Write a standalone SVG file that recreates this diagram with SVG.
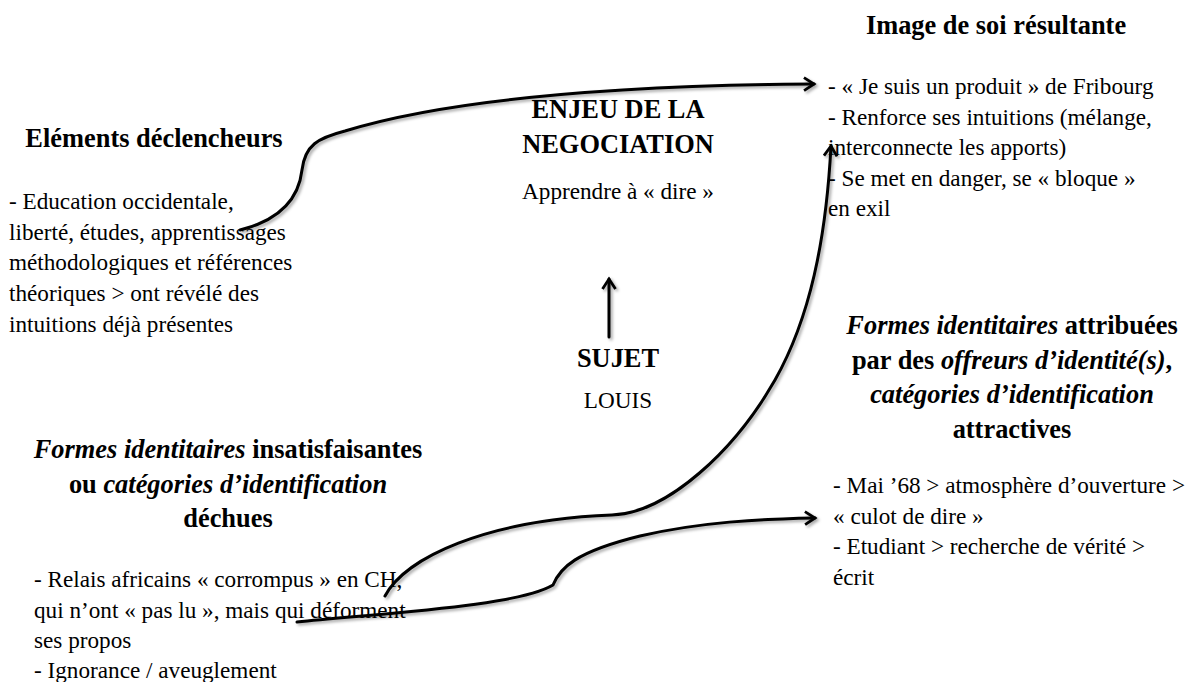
<svg xmlns="http://www.w3.org/2000/svg" width="1191" height="682" viewBox="0 0 1191 682" font-family="Liberation Serif, Tinos, Times New Roman, serif">
<style>
text{font-family:'Liberation Serif',Tinos,'Times New Roman',serif;fill:#000}
.t{font-size:26.4px;font-weight:bold;text-anchor:middle}
.b{font-size:23.2px}
.c{font-size:23.2px;text-anchor:middle}
.i{font-style:italic}
.ln{fill:none;stroke:#000;stroke-width:3;stroke-linecap:round}
</style>
<defs>
<marker id="ah" viewBox="0 0 16 16" refX="13" refY="8" markerWidth="16" markerHeight="16" markerUnits="userSpaceOnUse" orient="auto">
<path d="M3,1.5 L13,8 L3,14.5" fill="none" stroke="#000" stroke-width="2.8" stroke-linejoin="miter"/>
</marker>
<filter id="sh" x="-5%" y="-5%" width="110%" height="110%">
<feDropShadow dx="2" dy="2" stdDeviation="1.5" flood-color="#000" flood-opacity="0.35"/>
</filter>
</defs>
<rect width="1191" height="682" fill="#fff"/>

<g id="elements-declencheurs">
<text class="t" x="154" y="147">Eléments déclencheurs</text>
<text class="b" x="9" y="209">- Education occidentale,</text>
<text class="b" x="9" y="239.7">liberté, études, apprentissages</text>
<text class="b" x="9" y="270.4">méthodologiques et références</text>
<text class="b" x="9" y="301">théoriques &gt; ont révélé des</text>
<text class="b" x="9" y="331.7">intuitions déjà présentes</text>
</g>

<g id="image-de-soi">
<text class="t" x="996" y="34">Image de soi résultante</text>
<text class="b" x="828" y="94">- « Je suis un produit » de Fribourg</text>
<text class="b" x="828" y="124.5">- Renforce ses intuitions (mélange,</text>
<text class="b" x="828" y="155">interconnecte les apports)</text>
<text class="b" x="828" y="185.5">- Se met en danger, se « bloque »</text>
<text class="b" x="828" y="216">en exil</text>
</g>

<g id="enjeu">
<text class="t" x="618" y="118">ENJEU DE LA</text>
<text class="t" x="618" y="153">NEGOCIATION</text>
<text class="c" x="618" y="199">Apprendre à « dire »</text>
</g>

<g id="sujet">
<text class="t" x="618" y="367">SUJET</text>
<text class="c" x="618" y="408">LOUIS</text>
</g>

<g id="formes-dechues">
<text class="t" x="228" y="458"><tspan class="i">Formes identitaires</tspan> insatisfaisantes</text>
<text class="t" x="228" y="492.5">ou <tspan class="i">catégories d’identification</tspan></text>
<text class="t" x="228" y="527">déchues</text>
<text class="b" x="34" y="587">- Relais africains « corrompus » en CH,</text>
<text class="b" x="34" y="617.5">qui n’ont « pas lu », mais qui déforment</text>
<text class="b" x="34" y="648">ses propos</text>
<text class="b" x="34" y="678">- Ignorance / aveuglement</text>
</g>

<g id="formes-attractives">
<text class="t" x="1012" y="334"><tspan class="i">Formes identitaires</tspan> attribuées</text>
<text class="t" x="1012" y="368.5">par des <tspan class="i">offreurs d’identité(s)</tspan>,</text>
<text class="t" x="1012" y="403"><tspan class="i">catégories d’identification</tspan></text>
<text class="t" x="1012" y="437.5">attractives</text>
<text class="b" x="833" y="493">- Mai ’68 &gt; atmosphère d’ouverture &gt;</text>
<text class="b" x="833" y="523.5">« culot de dire »</text>
<text class="b" x="833" y="554">- Etudiant &gt; recherche de vérité &gt;</text>
<text class="b" x="833" y="584.5">écrit</text>
</g>

<g id="connectors" filter="url(#sh)">
<path class="ln" d="M240,230 C272,222 298,205 302,170 C305,145 318,138 345,131 C420,108 560,86 814,84" marker-end="url(#ah)"/>
<path class="ln" d="M385,596 C405,558 485,520 612,515 C668,513 735,450 775,380 C810,318 826,240 831,146" marker-end="url(#ah)"/>
<path class="ln" d="M297,622 C400,612 520,605 553,585 C560,568 575,552 640,536 C700,522 760,519 815,518" marker-end="url(#ah)"/>
<path class="ln" d="M609,337 L609,279" marker-end="url(#ah)"/>
</g>
</svg>
